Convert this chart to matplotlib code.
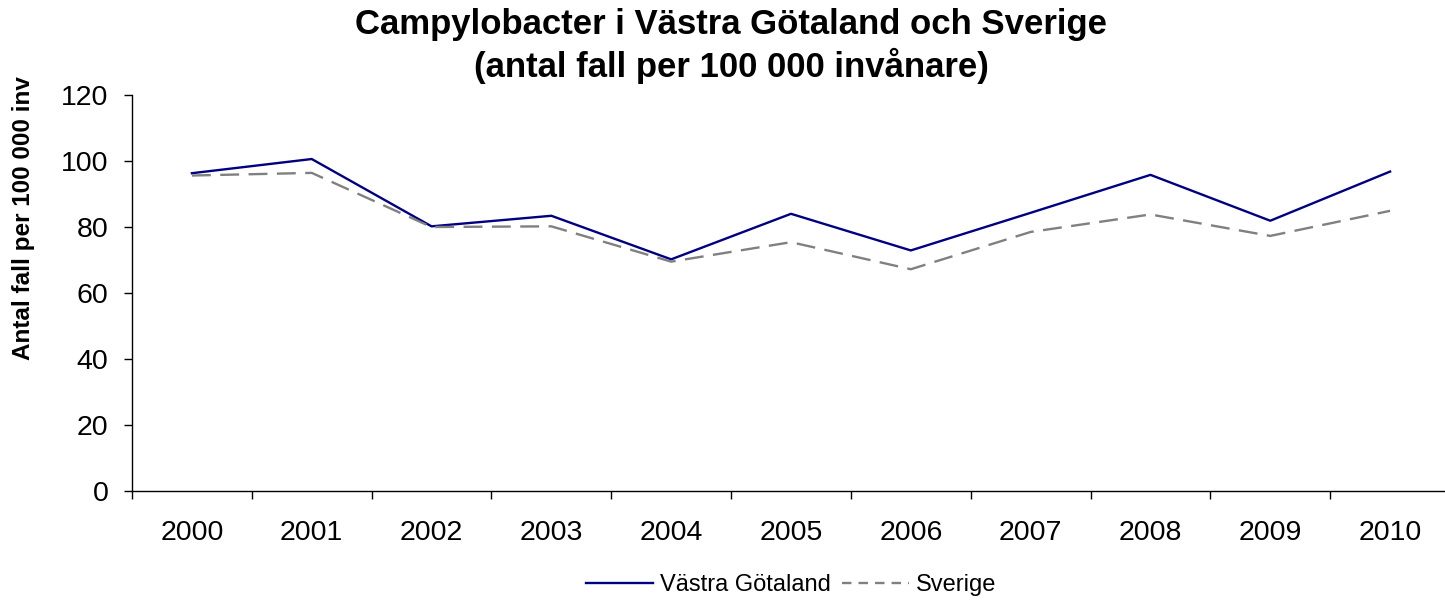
import matplotlib
matplotlib.use("Agg")
import matplotlib.pyplot as plt
import numpy as np

plt.rcParams['font.family'] = ['Liberation Sans', 'DejaVu Sans']

years = ["2000", "2001", "2002", "2003", "2004", "2005", "2006", "2007", "2008", "2009", "2010"]
vastra_gotaland = [96.3, 100.6, 80.2, 83.4, 70.2, 84.0, 72.9, 84.3, 95.8, 81.9, 96.8]
sverige = [95.6, 96.4, 80.0, 80.2, 69.5, 75.4, 67.2, 78.5, 83.8, 77.3, 84.9]

fig = plt.figure(figsize=(14.45, 6.09), dpi=100)
ax = fig.add_axes([132/1445, (609-491)/609, 1318/1445, 396/609])

x = np.arange(len(years))
ax.plot(x, vastra_gotaland, color='#000080', lw=1.7, label='Västra Götaland')
ax.plot(x, sverige, color='#808080', lw=1.7, dashes=(8, 4), label='Sverige')

ax.set_xlim(-0.5, len(years) - 0.5)
ax.set_ylim(0, 120)
ax.set_yticks(range(0, 121, 20))
ax.set_xticks(x)
ax.set_xticklabels(years)
ax.set_xticks(np.arange(-0.5, len(years) + 0.5, 1), minor=True)
ax.tick_params(axis='x', which='major', length=0, pad=21, labelsize=20.5)
ax.tick_params(axis='x', which='minor', length=6, width=1, direction='out')
ax.tick_params(axis='y', length=6, width=1, direction='out', pad=11, labelsize=20.5)

for s in ['top', 'right']:
    ax.spines[s].set_visible(False)
for s in ['left', 'bottom']:
    ax.spines[s].set_linewidth(1)
    ax.spines[s].set_color('#000000')

fig.text(24/1445, 1 - 218/609, 'Antal fall per 100 000 inv', rotation=90,
         ha='center', va='center', fontsize=17.5, fontweight='bold')

fig.text(731/1445, 1 - 46/609, 'Campylobacter i Västra Götaland och Sverige\n(antal fall per 100 000 invånare)',
         ha='center', va='center', fontsize=25, fontweight='bold', linespacing=1.25)

leg = ax.legend(loc='center', bbox_to_anchor=(0.5, (491 - 585) / 396), ncol=2, frameon=False,
                fontsize=17, handlelength=2.85, handletextpad=0.3, columnspacing=0.45)
leg.get_lines()[1].set_dashes((4, 3))

fig.savefig('out.png', dpi=100)
